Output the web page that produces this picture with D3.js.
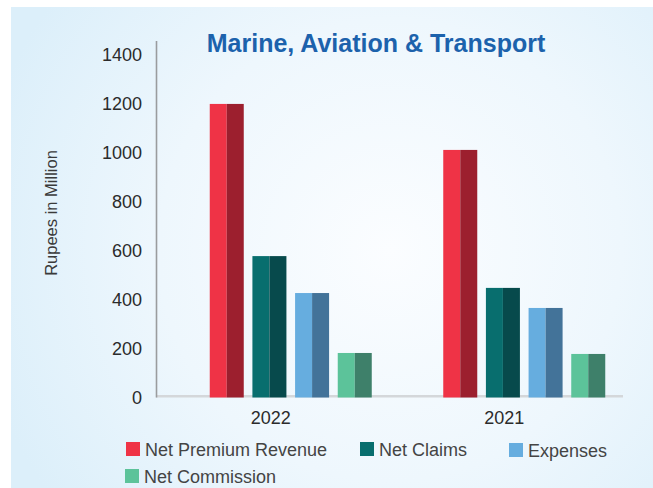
<!DOCTYPE html>
<html>
<head>
<meta charset="utf-8">
<script src="https://cdn.jsdelivr.net/npm/d3@7"></script>
<style>
  html, body { margin: 0; padding: 0; background: #ffffff; }
  svg { display: block; font-family: "Liberation Sans", Arial, Helvetica, sans-serif; }
</style>
</head>
<body>
<svg id="chart" width="653" height="488"></svg>
<script>
// Chart data
const categories = ["2022", "2021"];
const seriesNames = ["Net Premium Revenue", "Net Claims", "Expenses", "Net Commission"];
const values2022 = [1200, 578, 427, 182];
const values2021 = [1012, 448, 366, 178];
const yTicks = [0, 200, 400, 600, 800, 1000, 1200, 1400];

// Face colours: light front half, dark side half
const lightColors = ["#EF3346", "#086E6E", "#66ADDF", "#5CC39A"];
const darkColors  = ["#9C1F2E", "#074A4C", "#437399", "#3E806A"];

const svg = d3.select("#chart");
const W = 653, H = 488;

// Soft radial background panel
const defs = svg.append("defs");
const grad = defs.append("radialGradient")
  .attr("id", "bg").attr("gradientUnits", "userSpaceOnUse")
  .attr("cx", 390).attr("cy", 250).attr("r", 420);
grad.append("stop").attr("offset", "0%").attr("stop-color", "#FBFDFF");
grad.append("stop").attr("offset", "55%").attr("stop-color", "#EEF7FD");
grad.append("stop").attr("offset", "100%").attr("stop-color", "#DCEFFA");
svg.append("rect").attr("x", 11).attr("y", 7).attr("width", W - 11).attr("height", H - 7)
  .attr("fill", "url(#bg)");

// Scales
const x0 = d3.scaleBand().domain(categories).range([154, 621]);
const groupWidth = 162;
const x1 = d3.scaleBand().domain(seriesNames).range([0, groupWidth]).paddingInner(0.203);
const y = d3.scaleLinear().domain([0, 1400]).range([397.5, 55]);

const table = categories.map((c, i) => ({
  category: c,
  values: (i === 0 ? values2022 : values2021)
}));

// Baseline
svg.append("rect").attr("x", 156).attr("y", y(0) - 2.5).attr("width", 467).attr("height", 2.5)
  .attr("fill", "#D4D7DA");

// Vertical axis line
svg.append("line").attr("x1", 156.5).attr("x2", 156.5).attr("y1", 41).attr("y2", y(0))
  .attr("stroke", "#9A9C9E").attr("stroke-width", 1.6);

// Y axis labels
const yAxis = svg.append("g").attr("transform", "translate(156,0)")
  .call(d3.axisLeft(y).tickValues(yTicks).tickSize(0).tickPadding(14).tickFormat(d3.format("d")));
yAxis.select(".domain").remove();
yAxis.selectAll("text").attr("font-size", 18).attr("fill", "#2B2B2B")
  .attr("font-family", "'Liberation Sans', Arial, sans-serif");

// X axis labels
const xAxis = svg.append("g").attr("transform", `translate(0,${y(0)})`)
  .call(d3.axisBottom(x0).tickSize(0).tickPadding(14));
xAxis.select(".domain").remove();
xAxis.selectAll("text").attr("font-size", 18).attr("fill", "#2B2B2B")
  .attr("font-family", "'Liberation Sans', Arial, sans-serif");

// Bars: each drawn as a light half and a dark half
const groups = svg.selectAll("g.group").data(table).join("g")
  .attr("class", "group")
  .attr("transform", d => `translate(${x0(d.category) + x0.bandwidth() / 2 - 61},0)`);

groups.each(function(d) {
  const g = d3.select(this);
  const bw = x1.bandwidth();
  seriesNames.forEach((s, i) => {
    const v = d.values[i];
    g.append("rect")
      .attr("x", x1(s)).attr("y", y(v))
      .attr("width", bw / 2).attr("height", y(0) - y(v))
      .attr("fill", lightColors[i]);
    g.append("rect")
      .attr("x", x1(s) + bw / 2).attr("y", y(v))
      .attr("width", bw / 2).attr("height", y(0) - y(v))
      .attr("fill", darkColors[i]);
  });
});

// Title
svg.append("text").attr("x", 376).attr("y", 52).attr("text-anchor", "middle")
  .attr("font-size", 25).attr("font-weight", "bold").attr("fill", "#1C62AC")
  .text("Marine, Aviation & Transport");

// Y axis title
svg.append("text")
  .attr("transform", "translate(57,213) rotate(-90)")
  .attr("text-anchor", "middle").attr("font-size", 16.5).attr("fill", "#3A3A3A")
  .text("Rupees in Million");

// Legend
const legendPos = [[126, 442], [360, 442], [509, 443], [125, 469]];
const legend = svg.selectAll("g.legend").data(seriesNames).join("g")
  .attr("class", "legend")
  .attr("transform", (d, i) => `translate(${legendPos[i][0]},${legendPos[i][1]})`);
legend.append("rect").attr("width", 14).attr("height", 14)
  .attr("fill", (d, i) => lightColors[i]);
legend.append("text").attr("x", 19).attr("y", 14)
  .attr("font-size", 18).attr("fill", "#444")
  .text(d => d);
</script>
</body>
</html>
